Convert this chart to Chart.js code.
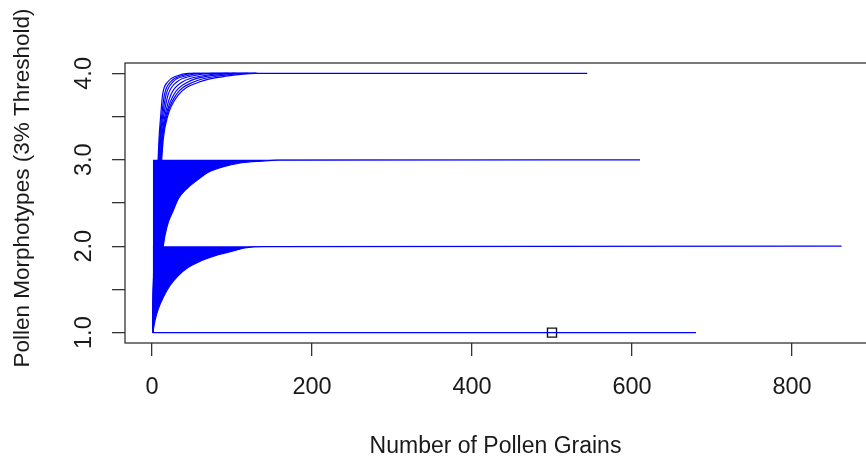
<!DOCTYPE html>
<html lang="en">
<head>
    <meta charset="UTF-8">
    <title>Pollen Morphotypes rarefaction</title>
    <style>
        html, body {
            margin: 0;
            padding: 0;
            background: #fff;
            overflow: hidden;
        }

        #chart {
            display: block;
        }
    </style>
</head>
<body>
    <canvas id="chart" width="866" height="461"></canvas>

    <script src="https://cdn.jsdelivr.net/npm/chart.js"></script>
    <script>
        const xTicks = [0, 200, 400, 600, 800];
        const yTicks = [1, 1.5, 2, 2.5, 3, 3.5, 4];
        const yTickLabels = ['1.0', '', '2.0', '', '3.0', '', '4.0'];

        // samples with one morphotype: a flat line
        const oneTypeX = [1, 680];
        const oneTypeY = [1, 1];

        // samples with two morphotypes: slowest curve, everything left of it is solid
        const twoTypeX = [1, 3.75, 7.9, 14.1, 22.5, 32.9, 45.4, 62.1, 82.9, 103.8, 116, 140, 862];
        const twoTypeY = [1, 1.139, 1.275, 1.409, 1.545, 1.66, 1.757, 1.834, 1.903, 1.95, 1.98, 1.995, 2];

        // samples with three morphotypes: slowest curve
        const threeTypeX = [1, 2.5, 5, 9, 14.1, 16.25, 20.4, 26.6, 32.9, 43.4, 55.9, 70.4, 87.1, 112.1, 137.1, 157.5, 610];
        const threeTypeY = [1, 1.35, 1.65, 1.85, 2.008, 2.124, 2.278, 2.414, 2.549, 2.665, 2.761, 2.857, 2.915, 2.966, 2.985, 2.995, 3];

        // samples with four morphotypes: grains needed to reach each level, one row per sample
        const fourTypeLevels = [1, 1.5, 2, 2.5, 3, 3.25, 3.5, 3.75, 3.9, 3.97, 4];
        const fourTypeCurves = [
            [1, 1.6, 2.8, 4.6, 7.6, 8.8, 10.8, 13.2, 19.5, 31, 45],
            [1, 1.7, 3.0, 5.0, 8.3, 9.6, 12.0, 15.5, 23, 36, 52],
            [1, 1.7, 3.1, 5.3, 8.8, 10.3, 13.2, 17.5, 26, 42, 62],
            [1, 1.8, 3.3, 5.7, 9.4, 11.0, 14.5, 20.0, 31, 50, 75],
            [1, 1.9, 3.5, 6.2, 10.2, 12.0, 16.0, 23.5, 38, 62, 92],
            [1, 1.9, 3.7, 6.6, 10.8, 12.8, 17.2, 27.0, 45, 72, 105],
            [1, 2.0, 3.9, 7.0, 11.4, 13.4, 18.2, 30.0, 52, 84, 118],
            [1, 2.1, 4.1, 7.5, 12.1, 14.2, 19.4, 33.0, 59, 95, 129]
        ];
        const fourTypeEnds = [60, 96, 544, 130, 120, 100, 130, 132];

        const markerX = [500];
        const markerY = [1];

        const yTitle = 'Pollen Morphotypes (3% Threshold)';

        const blue = '#0000ff';
        const ink = '#1a1a1a';
        const fontFamily = '"Liberation Sans", Arial, sans-serif';

        function toPoints(xs, ys) {
            return xs.map((x, i) => ({ x: x, y: ys[i] }));
        }

        function curve(points, extra) {
            return Object.assign({
                type: 'line',
                data: points,
                borderColor: blue,
                borderWidth: 1.2,
                pointRadius: 0,
                fill: false,
                cubicInterpolationMode: 'monotone'
            }, extra || {});
        }

        const datasets = [];
        datasets.push(curve(toPoints(oneTypeX, oneTypeY)));
        datasets.push(curve(toPoints(twoTypeX, twoTypeY), { fill: { value: 2 }, backgroundColor: blue }));
        datasets.push(curve(toPoints(threeTypeX, threeTypeY), { fill: { value: 3 }, backgroundColor: blue }));
        fourTypeCurves.forEach((xs, i) => {
            const pts = toPoints(xs, fourTypeLevels);
            pts.push({ x: fourTypeEnds[i], y: 4 });
            datasets.push(curve(pts));
        });
        datasets.push({
            type: 'scatter',
            data: toPoints(markerX, markerY),
            pointStyle: 'rect',
            pointRadius: 6.4,
            borderColor: '#111',
            borderWidth: 1.4,
            backgroundColor: '#fff'
        });

        // R-style box round the plot region; its right side is off the page in the original,
        // and the y title sits a little above the middle of the plot
        const boxPlugin = {
            id: 'box',
            afterDraw(chart) {
                const { ctx, chartArea: a } = chart;
                ctx.save();
                ctx.strokeStyle = '#333';
                ctx.lineWidth = 1.3;
                ctx.strokeRect(a.left, a.top, a.right - a.left + 6, a.bottom - a.top);

                ctx.translate(23, 188);
                ctx.rotate(-Math.PI / 2);
                ctx.fillStyle = ink;
                ctx.font = '22.5px ' + fontFamily;
                ctx.textAlign = 'center';
                ctx.textBaseline = 'middle';
                ctx.fillText(yTitle, 0, 0);
                ctx.restore();
            }
        };

        const tickGrid = {
            drawOnChartArea: false,
            drawTicks: true,
            tickLength: 13,
            color: '#333',
            lineWidth: 1.3
        };

        new Chart(document.getElementById('chart'), {
            type: 'line',
            data: { datasets: datasets },
            options: {
                responsive: false,
                animation: false,
                layout: {
                    autoPadding: false,
                    padding: { top: 63, right: 0, left: 0, bottom: 0 }
                },
                plugins: {
                    legend: { display: false },
                    tooltip: { enabled: false }
                },
                scales: {
                    x: {
                        type: 'linear',
                        min: -33.75,
                        max: 892.5,
                        afterBuildTicks: s => { s.ticks = xTicks.map(v => ({ value: v })); },
                        afterFit: s => {
                            s.height = 118;
                            s.paddingLeft = 0;
                            s.paddingRight = 0;
                        },
                        grid: tickGrid,
                        border: { display: false },
                        ticks: {
                            color: ink,
                            font: { family: fontFamily, size: 23.5 },
                            padding: 17,
                            maxRotation: 0,
                            callback: v => String(v)
                        },
                        title: {
                            display: true,
                            text: 'Number of Pollen Grains',
                            color: ink,
                            font: { family: fontFamily, size: 23 },
                            padding: { top: 0, bottom: 1 }
                        }
                    },
                    y: {
                        type: 'linear',
                        min: 0.88,
                        max: 4.12,
                        afterBuildTicks: s => { s.ticks = yTicks.map(v => ({ value: v })); },
                        afterFit: s => {
                            s.width = 125;
                            s.paddingTop = 0;
                            s.paddingBottom = 0;
                        },
                        grid: tickGrid,
                        border: { display: false },
                        ticks: {
                            color: ink,
                            font: { family: fontFamily, size: 23.5 },
                            minRotation: 90,
                            maxRotation: 90,
                            crossAlign: 'center',
                            padding: 11,
                            callback: v => yTickLabels[yTicks.indexOf(v)]
                        },
                        title: { display: false }
                    }
                }
            },
            plugins: [boxPlugin]
        });
    </script>
</body>
</html>
